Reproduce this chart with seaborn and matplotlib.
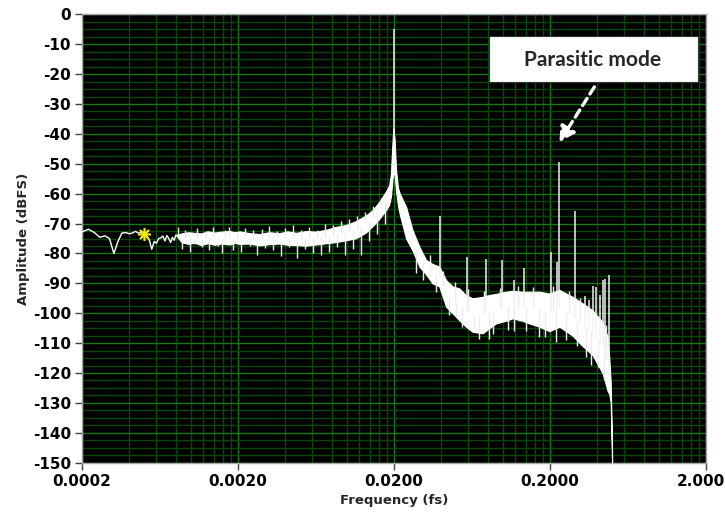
import matplotlib
matplotlib.use("Agg")
import numpy as np
import pandas as pd
import matplotlib.pyplot as plt
import seaborn as sns
from matplotlib.ticker import FixedLocator, FixedFormatter, NullFormatter, MultipleLocator
from matplotlib.patches import Rectangle

# ---- spectrum data (frequency normalised to fs, amplitude in dBFS) ----
# individual low-frequency FFT bins
lf_freq = [0.00020, 0.00022, 0.00024, 0.00026, 0.00028, 0.00030, 0.00032, 0.00034,
           0.00036, 0.00038, 0.00040, 0.00042, 0.00044, 0.00046, 0.00048, 0.00050,
           0.00052, 0.00054, 0.00056, 0.00058, 0.00060, 0.00062, 0.00064, 0.00066,
           0.00068, 0.00070, 0.00072, 0.00074, 0.00076, 0.00078, 0.00080]
lf_db = [-72.8, -71.9, -73.0, -74.6, -74.1, -75.0, -80.0, -76.0,
         -73.2, -73.0, -73.4, -73.2, -72.6, -73.2, -73.0, -73.6,
         -74.4, -75.5, -78.6, -76.0, -76.6, -75.0, -74.8, -74.2,
         -75.8, -74.0, -75.0, -76.3, -74.6, -75.6, -73.8]

# dense part of the spectrum: upper / lower edge of the solid noise band
band_freq = [0.00080, 0.00087, 0.00096, 0.00105, 0.00116, 0.00128, 0.00142, 0.00156,
             0.00177, 0.00190, 0.00205, 0.00236, 0.00274, 0.00317, 0.00368, 0.00416,
             0.00471, 0.00546, 0.00632, 0.00733, 0.0085, 0.00984, 0.0114, 0.0132,
             0.0146, 0.0161, 0.0178, 0.0186, 0.0191, 0.0195, 0.0198, 0.0202,
             0.0206, 0.0212, 0.0218, 0.0239, 0.0263, 0.0291, 0.0321, 0.0353,
             0.0390, 0.0431, 0.0475, 0.0524, 0.0579, 0.0638, 0.0740, 0.0816,
             0.0902, 0.1044, 0.1151, 0.133, 0.147, 0.171, 0.198, 0.230,
             0.279, 0.324, 0.375, 0.435, 0.468, 0.480, 0.490, 0.500]
band_top = [-73.8, -73.3, -72.9, -73.1, -73.3, -72.6, -73.0, -72.7,
            -72.5, -72.9, -72.6, -73.2, -73.5, -72.9, -73.2, -72.6,
            -73.1, -72.5, -72.7, -72.1, -71.1, -70.5, -69.2, -67.3,
            -65.5, -62.7, -59.2, -57.3, -53.5, -44.0, -38.0, -42.0,
            -52.0, -58.0, -60.0, -64.4, -72.2, -77.8, -82.2, -83.5,
            -84.4, -88.9, -91.0, -91.7, -94.0, -95.0, -94.5, -93.9,
            -93.5, -92.8, -92.5, -92.8, -92.8, -92.8, -93.4, -92.2,
            -94.5, -96.7, -99.0, -103.0, -108.0, -115.0, -123.0, -146.0]
band_bottom = [-73.8, -76.3, -76.8, -76.4, -77.2, -76.6, -77.1, -76.7,
               -77.0, -76.5, -76.8, -76.7, -77.3, -76.9, -76.7, -77.1,
               -77.2, -77.4, -77.0, -76.6, -76.2, -75.6, -74.9, -73.0,
               -70.8, -68.4, -65.4, -63.8, -61.0, -56.0, -52.0, -54.0,
               -59.0, -64.0, -67.0, -75.0, -79.0, -84.4, -87.0, -90.0,
               -91.0, -97.8, -100.0, -102.3, -104.5, -106.2, -106.7, -105.0,
               -103.4, -102.5, -101.7, -102.5, -103.4, -104.5, -106.0, -104.5,
               -107.5, -111.0, -114.0, -120.1, -126.0, -127.0, -130.0, -150.0]

# carrier, harmonics and spurious tones
spur_freq = [0.0199, 0.0394, 0.0588, 0.0781, 0.0982, 0.118, 0.137, 0.203, 0.222,
             0.230, 0.289, 0.335, 0.357, 0.379, 0.397, 0.419, 0.435, 0.452, 0.475]
spur_db = [-5.0, -67.4, -81.3, -81.9, -82.2, -88.9, -84.9, -79.4, -82.9,
           -49.3, -65.8, -94.4, -95.5, -90.8, -91.3, -93.9, -88.8, -88.6, -87.2]

# noise peaks/dips of the flat and rising part of the floor
floor_freq = [0.00082, 0.00087, 0.00092, 0.00098, 0.00104, 0.00110, 0.00117, 0.00124,
              0.00131, 0.00139, 0.00148, 0.00157, 0.00166, 0.00176, 0.00187, 0.00198,
              0.00210, 0.00223, 0.00237, 0.00251, 0.00266, 0.00283, 0.00300, 0.00318,
              0.00337, 0.00358, 0.00380, 0.00403, 0.00427, 0.00453, 0.00481, 0.00510,
              0.00541, 0.00574, 0.00609, 0.00646, 0.00685, 0.00727, 0.00771, 0.00818,
              0.00868, 0.00921, 0.00977, 0.01036, 0.01099, 0.01166, 0.01237, 0.01312,
              0.01392, 0.01476, 0.01566, 0.01661, 0.01762]
floor_db = [-71.0, -78.5, -72.0, -79.5, -77.0, -71.5, -78.0, -72.5,
            -79.0, -71.2, -77.5, -80.0, -72.2, -71.0, -78.8, -72.8,
            -79.4, -71.5, -77.6, -72.0, -80.5, -71.8, -78.2, -70.8,
            -79.0, -72.4, -81.0, -71.6, -78.0, -70.5, -81.5, -72.0,
            -78.6, -71.2, -79.8, -72.0, -80.5, -70.0, -79.5, -70.5,
            -78.0, -69.0, -80.5, -68.5, -78.5, -67.5, -80.5, -66.0,
            -76.0, -64.0, -73.5, -61.5, -70.0]

# noise peaks/dips above the harmonic region
hf_freq = [0.0277, 0.0305, 0.0340, 0.0372, 0.0410, 0.0450, 0.0490, 0.0499, 0.0545,
           0.0600, 0.0654, 0.0700, 0.0760, 0.0816, 0.0860, 0.0950, 0.108, 0.118,
           0.125, 0.140, 0.155, 0.171, 0.185, 0.210, 0.218, 0.255, 0.265, 0.300,
           0.310, 0.340, 0.366, 0.405, 0.445, 0.460]
hf_db = [-86.6, -89.0, -80.5, -93.0, -86.0, -100.5, -89.5, -101.2, -104.5,
         -92.0, -105.6, -108.5, -92.5, -108.5, -107.0, -91.5, -105.5, -106.0,
         -91.0, -106.0, -91.3, -108.0, -108.0, -91.0, -109.5, -109.0, -92.5, -111.0,
         -95.0, -114.6, -117.3, -118.0, -122.0, -104.0]

# cursor position
cursor_freq = [0.00050]
cursor_db = [-73.6]

# axis ticks
x_ticks = [0.0002, 0.002, 0.02, 0.2, 2.0]
x_tick_labels = ["0.0002", "0.0020", "0.0200", "0.2000", "2.0000"]
y_ticks = list(range(-150, 1, 10))
y_tick_labels = [str(v) for v in y_ticks]

# ---- figure ----
sns.set_style("ticks")
plt.rcParams["font.family"] = ["DejaVu Sans"]

W, H = 725, 512
fig = plt.figure(figsize=(W / 100, H / 100), dpi=100)
ax = fig.add_axes([82 / W, 1 - 462.7 / H, (706 - 82) / W, (462.7 - 14.3) / H])
ax.set_facecolor("black")
ax.set_xscale("log")
ax.set_xlim(0.0002, 2.0)
ax.set_ylim(-150, 0)

minor_x = [m * d for d in x_ticks[:-1] for m in range(2, 10)]
ax.xaxis.set_major_locator(FixedLocator(x_ticks))
ax.xaxis.set_major_formatter(FixedFormatter(x_tick_labels))
ax.xaxis.set_minor_locator(FixedLocator(minor_x))
ax.xaxis.set_minor_formatter(NullFormatter())
ax.yaxis.set_major_locator(FixedLocator(y_ticks))
ax.yaxis.set_major_formatter(FixedFormatter(y_tick_labels))
ax.yaxis.set_minor_locator(MultipleLocator(2.5))

ax.set_axisbelow(True)
ax.grid(which="minor", color="#0a480a", lw=1)
ax.grid(which="major", color="#147a14", lw=1)
ax.tick_params(which="minor", length=0)
ax.tick_params(which="major", length=5, width=1, color="#404040",
               labelsize=11, pad=3, labelcolor="black")
for lbl in ax.get_xticklabels() + ax.get_yticklabels():
    lbl.set_fontweight("bold")
for sp in ax.spines.values():
    sp.set_color("#a8a8a8")
    sp.set_linewidth(1)

# solid noise band of the dense spectrum
lf = np.log10(band_freq)
mid = (np.array(band_top) + np.array(band_bottom)) / 2
ax.fill_between(band_freq, band_top, band_bottom, color="white", lw=0.8,
                edgecolor="white", zorder=3)

# low-frequency bins
sns.lineplot(x=lf_freq, y=lf_db, ax=ax, color="white", lw=1.0,
             sort=False, estimator=None, zorder=4)


def strokes(freq, db, color, lw):
    """Vertical strokes from the band centre out to each listed level."""
    base = np.interp(np.log10(freq), lf, mid)
    ax.vlines(freq, db, base, color=color, lw=lw, zorder=4)


strokes(floor_freq, floor_db, "#ececec", 1.0)
strokes(hf_freq, hf_db, "#ececec", 1.0)
strokes(spur_freq, spur_db, "#f2f2f2", 1.1)

# cursor marker
ax.plot(cursor_freq, cursor_db, marker=(8, 2, 0), ms=9, mec="#f5e60a",
        mew=1.2, ls="none", zorder=5)

ax.set_xlabel("Frequency (fs)", fontsize=9.5, fontweight="bold", labelpad=4)
ax.set_ylabel("Amplitude (dBFS)", fontsize=9.5, fontweight="bold", labelpad=2)

# callout box and dashed arrow
box = Rectangle((489 / W, 1 - 82 / H), 209 / W, 46 / H, transform=fig.transFigure,
                facecolor="white", edgecolor="#303030", lw=0.8, zorder=6)
fig.add_artist(box)
fig.text(592.5 / W, 1 - 59.5 / H, "Parasitic mode", ha="center", va="center",
         fontsize=15, fontweight="bold", family=["Lato", "DejaVu Sans"], zorder=7)
ax.annotate("", xy=(0.230, -42.7), xytext=(0.385, -24.3),
            arrowprops=dict(arrowstyle="-|>,head_length=0.9,head_width=0.5",
                            color="white", lw=2.4, linestyle=(0, (2.5, 1.6)),
                            shrinkA=0, shrinkB=0), zorder=6)

fig.savefig("out.png", dpi=100, facecolor="white")
